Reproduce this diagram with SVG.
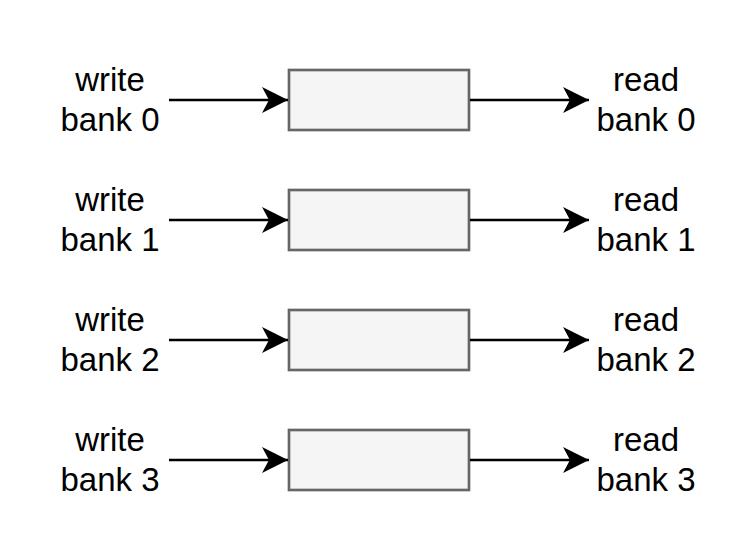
<svg xmlns="http://www.w3.org/2000/svg" width="756" height="558" viewBox="0 0 756 558">
<style>
.box{fill:#f5f5f5;stroke:#666666;stroke-width:2.67}
.lbl{font-family:"Liberation Sans",Arial,sans-serif;font-size:33px;fill:#000;text-anchor:middle}
.conn{stroke:#000;stroke-width:2.67;fill:none}
</style>
<defs>
<marker id="arr" markerUnits="userSpaceOnUse" markerWidth="30" markerHeight="30" refX="26" refY="13" orient="auto">
<path d="M0,0 L26,13 L0,26 L7,13 Z" fill="#000"/>
</marker>
</defs>
<rect width="756" height="558" fill="#fff"/>
<g id="box0"><rect class="box" x="289" y="70" width="180" height="60"/></g>
<g id="box1"><rect class="box" x="289" y="190" width="180" height="60"/></g>
<g id="box2"><rect class="box" x="289" y="310" width="180" height="60"/></g>
<g id="box3"><rect class="box" x="289" y="430" width="180" height="60"/></g>
<g id="w0"><text class="lbl" x="110" y="91">write</text><text class="lbl" x="110" y="131">bank 0</text></g>
<g id="w1"><text class="lbl" x="110" y="211">write</text><text class="lbl" x="110" y="251">bank 1</text></g>
<g id="w2"><text class="lbl" x="110" y="331">write</text><text class="lbl" x="110" y="371">bank 2</text></g>
<g id="w3"><text class="lbl" x="110" y="451">write</text><text class="lbl" x="110" y="491">bank 3</text></g>
<g id="r0"><text class="lbl" x="646" y="91">read</text><text class="lbl" x="646" y="131">bank 0</text></g>
<g id="r1"><text class="lbl" x="646" y="211">read</text><text class="lbl" x="646" y="251">bank 1</text></g>
<g id="r2"><text class="lbl" x="646" y="331">read</text><text class="lbl" x="646" y="371">bank 2</text></g>
<g id="r3"><text class="lbl" x="646" y="451">read</text><text class="lbl" x="646" y="491">bank 3</text></g>
<g id="connectors">
<line class="conn" x1="169" y1="100" x2="288" y2="100" marker-end="url(#arr)"/>
<line class="conn" x1="169" y1="220" x2="288" y2="220" marker-end="url(#arr)"/>
<line class="conn" x1="169" y1="340" x2="288" y2="340" marker-end="url(#arr)"/>
<line class="conn" x1="169" y1="460" x2="288" y2="460" marker-end="url(#arr)"/>
<line class="conn" x1="470" y1="100" x2="589" y2="100" marker-end="url(#arr)"/>
<line class="conn" x1="470" y1="220" x2="589" y2="220" marker-end="url(#arr)"/>
<line class="conn" x1="470" y1="340" x2="589" y2="340" marker-end="url(#arr)"/>
<line class="conn" x1="470" y1="460" x2="589" y2="460" marker-end="url(#arr)"/>
</g>
</svg>
